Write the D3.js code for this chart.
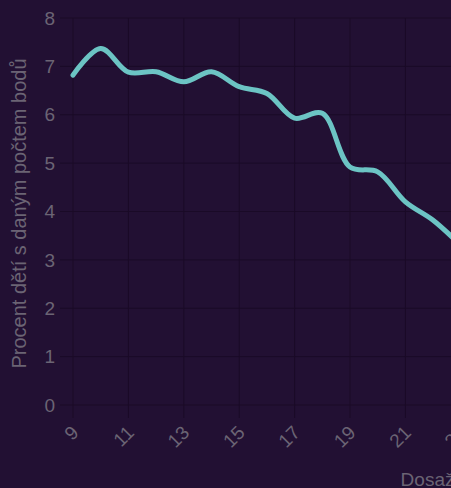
<!DOCTYPE html>
<html>
<head>
<meta charset="utf-8">
<script src="https://cdn.jsdelivr.net/npm/d3@7"></script>
<style>
  html, body { margin: 0; padding: 0; background: #221033; overflow: hidden; }
  text { font-family: "Liberation Sans", Arial, sans-serif; }
</style>
</head>
<body>
<div id="chart"></div>
<script>
// points reached vs. share of children (%)
var points = [9, 10, 11, 12, 13, 14, 15, 16, 17, 18, 19, 20, 21, 22, 23];
var percent = [6.82, 7.37, 6.88, 6.89, 6.68, 6.89, 6.58, 6.44, 5.93, 6.03, 4.92, 4.82, 4.2, 3.82, 3.3];
var yTicks = [0, 1, 2, 3, 4, 5, 6, 7, 8];
var xTicks = d3.range(9, 40, 2);

var width = 920;
var height = 488;
var margin = {top: 18, left: 73, bottom: 83};

var x = d3.scaleLinear().domain([9, 39]).range([margin.left, margin.left + 30 * 27.7]);
var y = d3.scaleLinear().domain([0, 8]).range([height - margin.bottom, margin.top]);

var svg = d3.select("#chart").append("svg")
  .attr("width", width)
  .attr("height", height);

// grid + ticks
svg.append("g")
  .selectAll("line")
  .data(yTicks)
  .enter().append("line")
  .attr("x1", x(9) - 13)
  .attr("x2", x(39))
  .attr("y1", function(d) { return y(d); })
  .attr("y2", function(d) { return y(d); })
  .style("stroke", "#1a0a27")
  .style("stroke-width", 1);

svg.append("g")
  .selectAll("line")
  .data(xTicks)
  .enter().append("line")
  .attr("x1", function(d) { return x(d); })
  .attr("x2", function(d) { return x(d); })
  .attr("y1", y(8))
  .attr("y2", y(0) + 13)
  .style("stroke", "#1a0a27")
  .style("stroke-width", 1);

svg.append("g")
  .selectAll("text")
  .data(yTicks)
  .enter().append("text")
  .attr("x", x(9) - 18)
  .attr("y", function(d) { return y(d); })
  .attr("dy", "0.35em")
  .attr("text-anchor", "end")
  .style("font-size", "19px")
  .style("fill", "#6b6474")
  .text(function(d) { return d; });

svg.append("g")
  .selectAll("text")
  .data(xTicks)
  .enter().append("text")
  .attr("text-anchor", "end")
  .attr("transform", function(d) {
      return "translate(" + (x(d) + 2) + "," + (y(0) + 24) + ")rotate(-45)";
  })
  .attr("dy", "0.35em")
  .style("font-size", "19px")
  .style("fill", "#6b6474")
  .text(function(d) { return d; });

// axis titles
svg.append("text")
  .attr("transform", "translate(26," + ((y(0) + y(8)) / 2 + 2) + ")rotate(-90)")
  .attr("text-anchor", "middle")
  .style("font-size", "20px")
  .style("fill", "#6b6474")
  .text("Procent dětí s daným počtem bodů");

svg.append("text")
  .attr("x", (x(9) + x(39)) / 2 + 4)
  .attr("y", 486)
  .attr("text-anchor", "middle")
  .style("font-size", "19px")
  .style("fill", "#6b6474")
  .text("Dosažený počet bodů");

var line = d3.line()
  .x(function(d, i) { return x(points[i]); })
  .y(function(d) { return y(d); })
  .curve(d3.curveCatmullRom.alpha(0.5));

svg.append("path")
  .datum(percent)
  .attr("d", line)
  .style("fill", "none")
  .style("stroke", "#6cc4c4")
  .style("stroke-width", 5)
  .style("stroke-linecap", "round");
</script>
</body>
</html>
